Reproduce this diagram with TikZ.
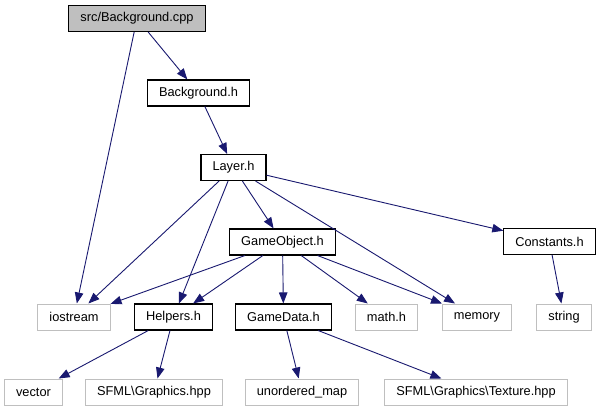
\documentclass[tikz,border=0pt]{standalone}
\usepackage{fontspec}
\setmainfont{Liberation Sans}
\usetikzlibrary{arrows.meta}
\definecolor{edgeblue}{HTML}{191970}
\definecolor{mainfill}{HTML}{BFBFBF}
\definecolor{extgray}{HTML}{BFBFBF}

\begin{document}
\begin{tikzpicture}[x=1pt, y=-1pt, font=\fontsize{12.8}{15}\selectfont]
\tikzset{
  file/.style={draw=black, line width=1.1pt, fill=white, rectangle,
    minimum height=26pt, inner xsep=11.5pt, inner ysep=0pt},
  mainfile/.style={file, fill=mainfill},
  extfile/.style={file, draw=extgray, line width=1pt},
  dep/.style={-{Triangle[length=11pt, width=8.5pt]}, edgeblue, line width=0.9pt},
}
\useasboundingbox[fill=white] (0,0) rectangle (601,411);

% ---- row 1 .. 4: project files ----
\node[mainfile] (cpp)    at (137,18.5)    {src/Background.cpp};
\node[file]     (bgh)    at (198.5,93)    {Background.h};
\node[file]     (layer)  at (233.5,167.5) {Layer.h};
\node[file]     (gobj)   at (282.5,242)   {GameObject.h};
\node[file]     (consts) at (549.5,241.5) {Constants.h};

% ---- row 5 ----
\node[extfile] (iostream) at (74,317)    {iostream};
\node[file]    (helpers)  at (173.5,317) {Helpers.h};
\node[file]    (gdata)    at (283.5,317) {GameData.h};
\node[extfile] (mathh)    at (386.5,317) {math.h};
\node[extfile] (memory)   at (477,317)   {memory};
\node[extfile] (string)   at (564,317)   {string};

% ---- row 6 ----
\node[extfile] (vector)  at (33.5,392) {vector};
\node[extfile] (sfgfx)   at (154,392)  {SFML\textbackslash Graphics.hpp};
\node[extfile] (umap)    at (302,392)  {unordered\_map};
\node[extfile] (sftex)   at (476,392)  {SFML\textbackslash Graphics\textbackslash Texture.hpp};

% ---- include edges ----
\draw[dep] (cpp) -- (bgh);
\draw[dep] (cpp) -- (iostream);
\draw[dep] (bgh) -- (layer);
\foreach \t in {iostream,helpers,gobj,memory,consts}
  \draw[dep] (layer) -- (\t);
\foreach \t in {iostream,helpers,gdata,mathh,memory}
  \draw[dep] (gobj) -- (\t);
\draw[dep] (consts) -- (string);
\draw[dep] (helpers) -- (vector);
\draw[dep] (helpers) -- (sfgfx);
\draw[dep] (gdata) -- (umap);
\draw[dep] (gdata) -- (sftex);

\end{tikzpicture}
\end{document}
